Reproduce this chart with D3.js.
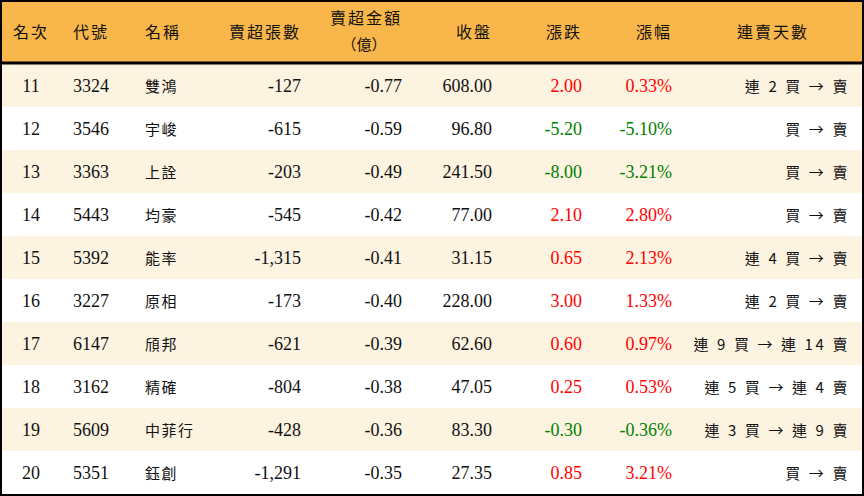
<!DOCTYPE html>
<html><head><meta charset="utf-8">
<script src="https://cdn.jsdelivr.net/npm/d3@7"></script>
<style>body{margin:0;background:#fff}</style>
</head><body><div id="c"></div>
<script>
// table data
var ranks = [11,12,13,14,15,16,17,18,19,20];
var codes = ["3324","3546","3363","5443","5392","3227","6147","3162","5609","5351"];
var names = ["雙鴻","宇峻","上詮","均豪","能率","原相","頎邦","精確","中菲行","鈺創"];
var netSell = [-127,-615,-203,-545,-1315,-173,-621,-804,-428,-1291];
var amount = [-0.77,-0.59,-0.49,-0.42,-0.41,-0.40,-0.39,-0.38,-0.36,-0.35];
var closes = [608.00,96.80,241.50,77.00,31.15,228.00,62.60,47.05,83.30,27.35];
var change = [2.00,-5.20,-8.00,2.10,0.65,3.00,0.60,0.25,-0.30,0.85];
var pct = [0.33,-5.10,-3.21,2.80,2.13,1.33,0.97,0.53,-0.36,3.21];
var streak = ["連 2 買 → 賣","買 → 賣","買 → 賣","買 → 賣","連 4 買 → 賣","連 2 買 → 賣","連 9 買 → 連 14 賣","連 5 買 → 連 4 賣","連 3 買 → 連 9 賣","買 → 賣"];

var W = 864, H = 496, headH = 62, rowH = 43;
var svg = d3.select("#c").append("svg").attr("width", W).attr("height", H);
var serif = "'Liberation Serif','DejaVu Serif',serif";
var cjk = "'Noto Sans CJK TC','Noto Sans CJK SC',sans-serif";
var y = d3.scaleBand().domain(ranks).range([headH + 2, headH + 2 + rowH * ranks.length]);
var fmt = d3.formatLocale({decimal: ".", thousands: ",", grouping: [3], currency: ["", ""], minus: "-"}).format(",");

svg.append("rect").attr("width", W).attr("height", headH).attr("fill", "#F9B64A");
svg.selectAll("rect.row").data(ranks).enter().append("rect").attr("class", "row")
  .attr("x", 0).attr("y", d => y(d)).attr("width", W).attr("height", rowH)
  .attr("fill", (d, i) => i % 2 ? "#fff" : "#FDF3E1");

var cols = [
  {h: "名次", x: 31, a: "middle", v: i => ranks[i]},
  {h: "代號", x: 73, a: "start", v: i => codes[i]},
  {h: "名稱", x: 145, a: "start", v: i => names[i], cjk: true},
  {h: "賣超張數", x: 301, a: "end", v: i => fmt(netSell[i])},
  {h: "賣超金額", x: 402, a: "end", v: i => amount[i].toFixed(2)},
  {h: "收盤", x: 492, a: "end", v: i => closes[i].toFixed(2)},
  {h: "漲跌", x: 582, a: "end", v: i => change[i].toFixed(2), c: i => change[i] < 0 ? "#008000" : "#FF0000"},
  {h: "漲幅", x: 672, a: "end", v: i => pct[i].toFixed(2) + "%", c: i => pct[i] < 0 ? "#008000" : "#FF0000"},
  {h: "連賣天數", x: 850, a: "end", v: i => streak[i], cjk: true, ls: 2.6, hx: 773, ha: "middle"}
];

var hg = svg.append("g").attr("font-family", cjk).attr("font-size", 16).attr("fill", "#111");
cols.forEach(function (c) {
  var t = hg.append("text").attr("x", c.hx || c.x).attr("text-anchor", c.ha || c.a)
    .attr("letter-spacing", 2);
  if (c.h === "賣超金額") {
    t.attr("y", 24).text(c.h);
    hg.append("text").attr("x", 364).attr("y", 50).attr("text-anchor", "middle")
      .attr("font-size", 15).text("（億）");
  } else t.attr("y", 38).text(c.h);
});

var body = svg.append("g").attr("font-size", 17);
cols.forEach(function (c) {
  body.selectAll(null).data(ranks).enter().append("text")
    .attr("x", c.x).attr("y", d => y(d) + rowH / 2 + 6)
    .attr("text-anchor", c.a)
    .attr("font-family", c.cjk ? cjk : serif)
    .attr("font-size", c.cjk ? 15 : 18)
    .attr("letter-spacing", c.ls || (c.cjk ? 1.5 : 0))
    .attr("fill", (d, i) => c.c ? c.c(i) : "#111")
    .text((d, i) => c.v(i));
});

svg.append("line").attr("x1", 0).attr("x2", W).attr("y1", headH + 1).attr("y2", headH + 1)
  .attr("stroke", "#000").attr("stroke-width", 3);
svg.append("rect").attr("x", 1).attr("y", 1).attr("width", W - 2).attr("height", H - 2)
  .attr("fill", "none").attr("stroke", "#000").attr("stroke-width", 2);
</script></body></html>
